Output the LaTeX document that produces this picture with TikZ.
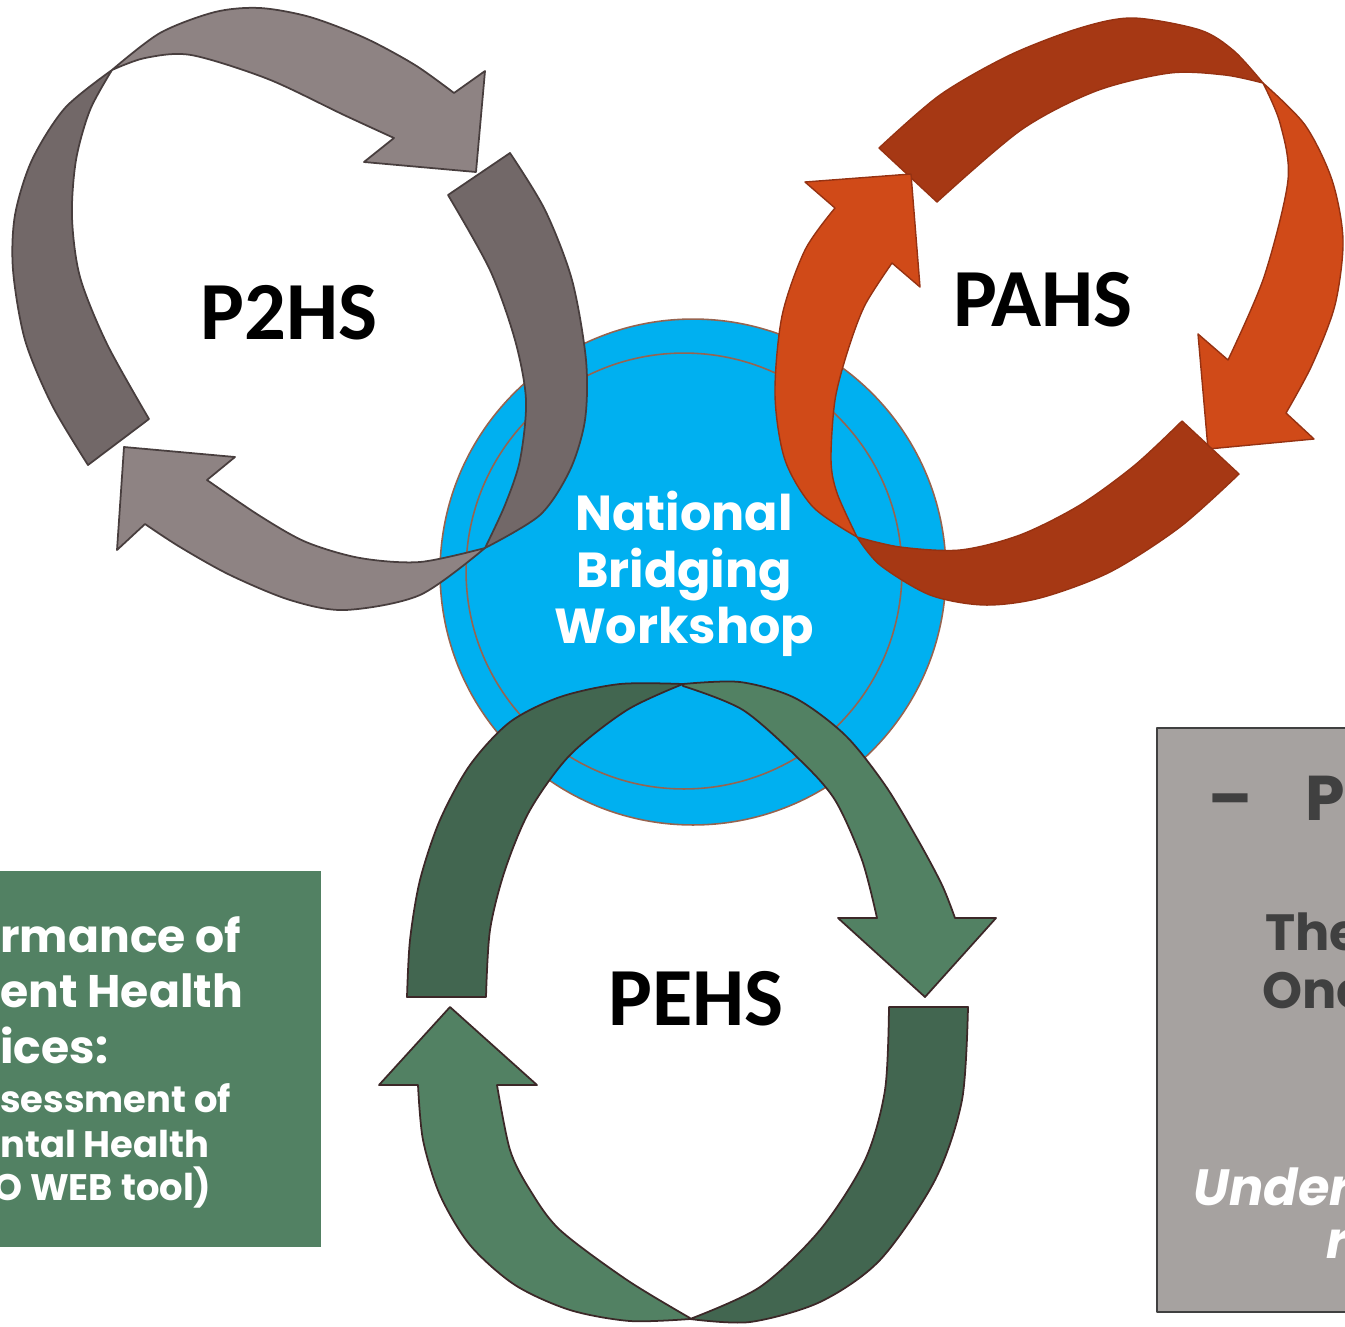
\documentclass[tikz,border=0pt]{standalone}
\usepackage{fontspec}
\newfontfamily\lblfont{Carlito}
\newfontfamily\handfont{Poppins}
\usetikzlibrary{positioning}
\definecolor{grayL}{RGB}{142,131,131}
\definecolor{grayD}{RGB}{114,104,104}
\definecolor{grayE}{RGB}{72,62,62}
\definecolor{orgL}{RGB}{208,74,24}
\definecolor{orgD}{RGB}{166,56,20}
\definecolor{orgE}{RGB}{150,50,18}
\definecolor{grnL}{RGB}{82,129,99}
\definecolor{grnD}{RGB}{66,102,80}
\definecolor{grnE}{RGB}{60,40,40}
\definecolor{wsblue}{RGB}{0,176,240}
\definecolor{wsring}{RGB}{150,100,80}
\definecolor{boxgrn}{RGB}{82,129,99}
\definecolor{boxgry}{RGB}{166,162,160}
\definecolor{txtgry}{RGB}{64,64,64}

\begin{document}
\begin{tikzpicture}[x=0.02cm, y=-0.02cm, line join=round,
 gryL/.style={fill=grayL, draw=grayE, line width=1pt},
 gryD/.style={fill=grayD, draw=grayE, line width=1pt},
 orL/.style={fill=orgL, draw=orgE, line width=0.8pt},
 orD/.style={fill=orgD, draw=orgE, line width=0.8pt},
 gnL/.style={fill=grnL, draw=grnE, line width=1pt},
 gnD/.style={fill=grnD, draw=grnE, line width=1pt},
 lbl/.style={font=\lblfont\bfseries\fontsize{47}{50}\selectfont, inner sep=0pt},
 hand/.style={font=\handfont\bfseries\fontsize{#1}{#1}\selectfont, inner sep=0pt, anchor=base west}]
\useasboundingbox (0,0) rectangle (1345,1326);
\clip (0,0) rectangle (1345,1326);

% centre
\node[circle, fill=wsblue, draw=wsring, line width=0.9pt, minimum size=10.12cm, inner sep=0pt] (nbw) at (693,572) {};
\draw[wsring, line width=0.9pt] (684,571) circle[radius=4.36cm];
\node[align=center, text=white, inner sep=0pt, font=\handfont\bfseries\fontsize{28}{32}\selectfont] (nbwtxt) at (684,574) {National\\Bridging\\Workshop};

% side boxes
\fill[boxgrn] (-10,871) rectangle (321,1247);
\node[hand=26, text=white] (g1) at (0,952) {rmance of};
\node[hand=26, text=white] (g2) at (0,1007) {ent Health};
\node[hand=26, text=white] (g3) at (0,1063) {ices:};
\node[hand=21, text=white] (g4) at (0,1112) {sessment of};
\node[hand=21, text=white] (g5) at (0,1157) {ntal Health};
\node[hand=21, text=white] (g6) at (-7,1200) {O WEB tool)};

\filldraw[fill=boxgry, draw=txtgry, line width=1.2pt] (1157,728) rectangle (1360,1312);
\node[hand=36, text=txtgry] (r1) at (1208,820) {–};
\node[hand=36, text=txtgry] (r2) at (1305,820) {P};
\node[hand=29, text=txtgry] (r3) at (1265,950) {The};
\node[hand=29, text=txtgry] (r4) at (1262,1008) {One};
\node[hand=29, text=white, font=\handfont\bfseries\itshape\fontsize{29}{29}\selectfont] (r5) at (1193,1205) {Under};
\node[hand=29, text=white, font=\handfont\bfseries\itshape\fontsize{29}{29}\selectfont] (r6) at (1326,1258) {r};

% P2HS
\filldraw[gryD] (88,465) -- (149,419) -- plot[smooth] coordinates {(149,419) (107,344) (80,277) (72,217) (76,160) (90,110) (112,70)}
 -- plot[smooth] coordinates {(112,70) (65,108) (32,160) (15,215) (13,270) (25,340) (52,405) (88,465)} -- cycle;
\filldraw[gryL] (112,70) -- plot[smooth] coordinates {(112,70) (160,33) (215,12) (260,8) (310,17) (365,38) (415,65) (454,93)}
 -- (485,71) -- (476,172) -- (364,162) -- (394,138)
 -- plot[smooth] coordinates {(394,138) (344,115) (268,79) (191,55) (145,58) (112,70)} -- cycle;
\filldraw[gryD] (448,195) -- (510,153) -- plot[smooth] coordinates {(510,153) (545,210) (572,280) (586,360) (585,420) (570,470) (540,515) (485,548)}
 -- plot[smooth] coordinates {(485,548) (505,505) (520,460) (526,400) (515,340) (490,270) (448,195)} -- cycle;
\filldraw[gryL] (485,548) -- plot[smooth] coordinates {(485,548) (420,595) (345,610) (290,600) (230,575) (180,547) (145,524)}
 -- (117,550) -- (124,447) -- (235,457) -- (207,480)
 -- plot[smooth] coordinates {(207,480) (260,516) (306,542) (360,558) (420,562) (485,548)} -- cycle;
\node[lbl] (p2hs) at (289,313) {P2HS};

% PAHS
\filldraw[orD] (879,148) -- plot[smooth] coordinates {(879,148) (940,95) (1010,55) (1080,28) (1133,18) (1200,30) (1234,51) (1263,83)}
 -- plot[smooth] coordinates {(1263,83) (1225,75) (1170,73) (1096,91) (1021,130) (937,202)} -- cycle;
\filldraw[orL] (1263,83) -- plot[smooth] coordinates {(1263,83) (1305,125) (1332,180) (1343,240) (1335,305) (1312,365) (1286,413)}
 -- (1314,439) -- (1208,449) -- (1198,334) -- (1228,360)
 -- plot[smooth] coordinates {(1228,360) (1264,277) (1288,180) (1280,123) (1263,83)} -- cycle;
\filldraw[orD] (1182,421) -- (1239,474) -- plot[smooth] coordinates {(1239,474) (1180,527) (1110,572) (1040,598) (984,605) (930,595) (880,565) (857,537)}
 -- plot[smooth] coordinates {(857,537) (900,547) (960,550) (1020,535) (1080,505) (1135,465) (1182,421)} -- cycle;
\filldraw[orL] (857,537) -- plot[smooth] coordinates {(857,537) (813,507) (785,460) (775,395) (782,316) (805,250) (835,208)}
 -- (805,182) -- (911,174) -- (920,287) -- (892,263)
 -- plot[smooth] coordinates {(892,263) (865,305) (848,350) (835,400) (831,460) (837,493) (857,537)} -- cycle;
\node[lbl] (pahs) at (1043,300) {PAHS};

% PEHS
\filldraw[gnD] (407,997) -- plot[smooth] coordinates {(407,997) (410,940) (420,880) (440,820) (470,765) (510,722) (560,697) (620,684) (683,684)}
 -- plot[smooth] coordinates {(683,684) (627,710) (570,755) (530,810) (505,870) (490,930) (486,997)} -- cycle;
\filldraw[gnL] (683,684) -- plot[smooth] coordinates {(683,684) (740,682) (795,698) (845,735) (885,785) (918,840) (942,885) (955,918)}
 -- (996,918) -- (925,997) -- (838,918) -- (877,918)
 -- plot[smooth] coordinates {(877,918) (862,860) (835,800) (800,760) (743,710) (683,686)} -- cycle;
\filldraw[gnD] (889,1007) -- (968,1007) -- plot[smooth] coordinates {(968,1007) (962,1100) (935,1180) (880,1260) (820,1302) (750,1322) (690,1319)}
 -- plot[smooth] coordinates {(690,1319) (760,1287) (820,1230) (865,1160) (885,1090) (889,1007)} -- cycle;
\filldraw[gnL] (690,1319) -- plot[smooth] coordinates {(690,1319) (630,1321) (570,1310) (515,1285) (470,1245) (440,1195) (423,1140) (418,1085)}
 -- (379,1085) -- (450,1007) -- (537,1085) -- (497,1085)
 -- plot[smooth] coordinates {(497,1085) (510,1150) (530,1190) (560,1230) (627,1280) (690,1318)} -- cycle;
\node[lbl] (pehs) at (696,999) {PEHS};
\end{tikzpicture}
\end{document}
